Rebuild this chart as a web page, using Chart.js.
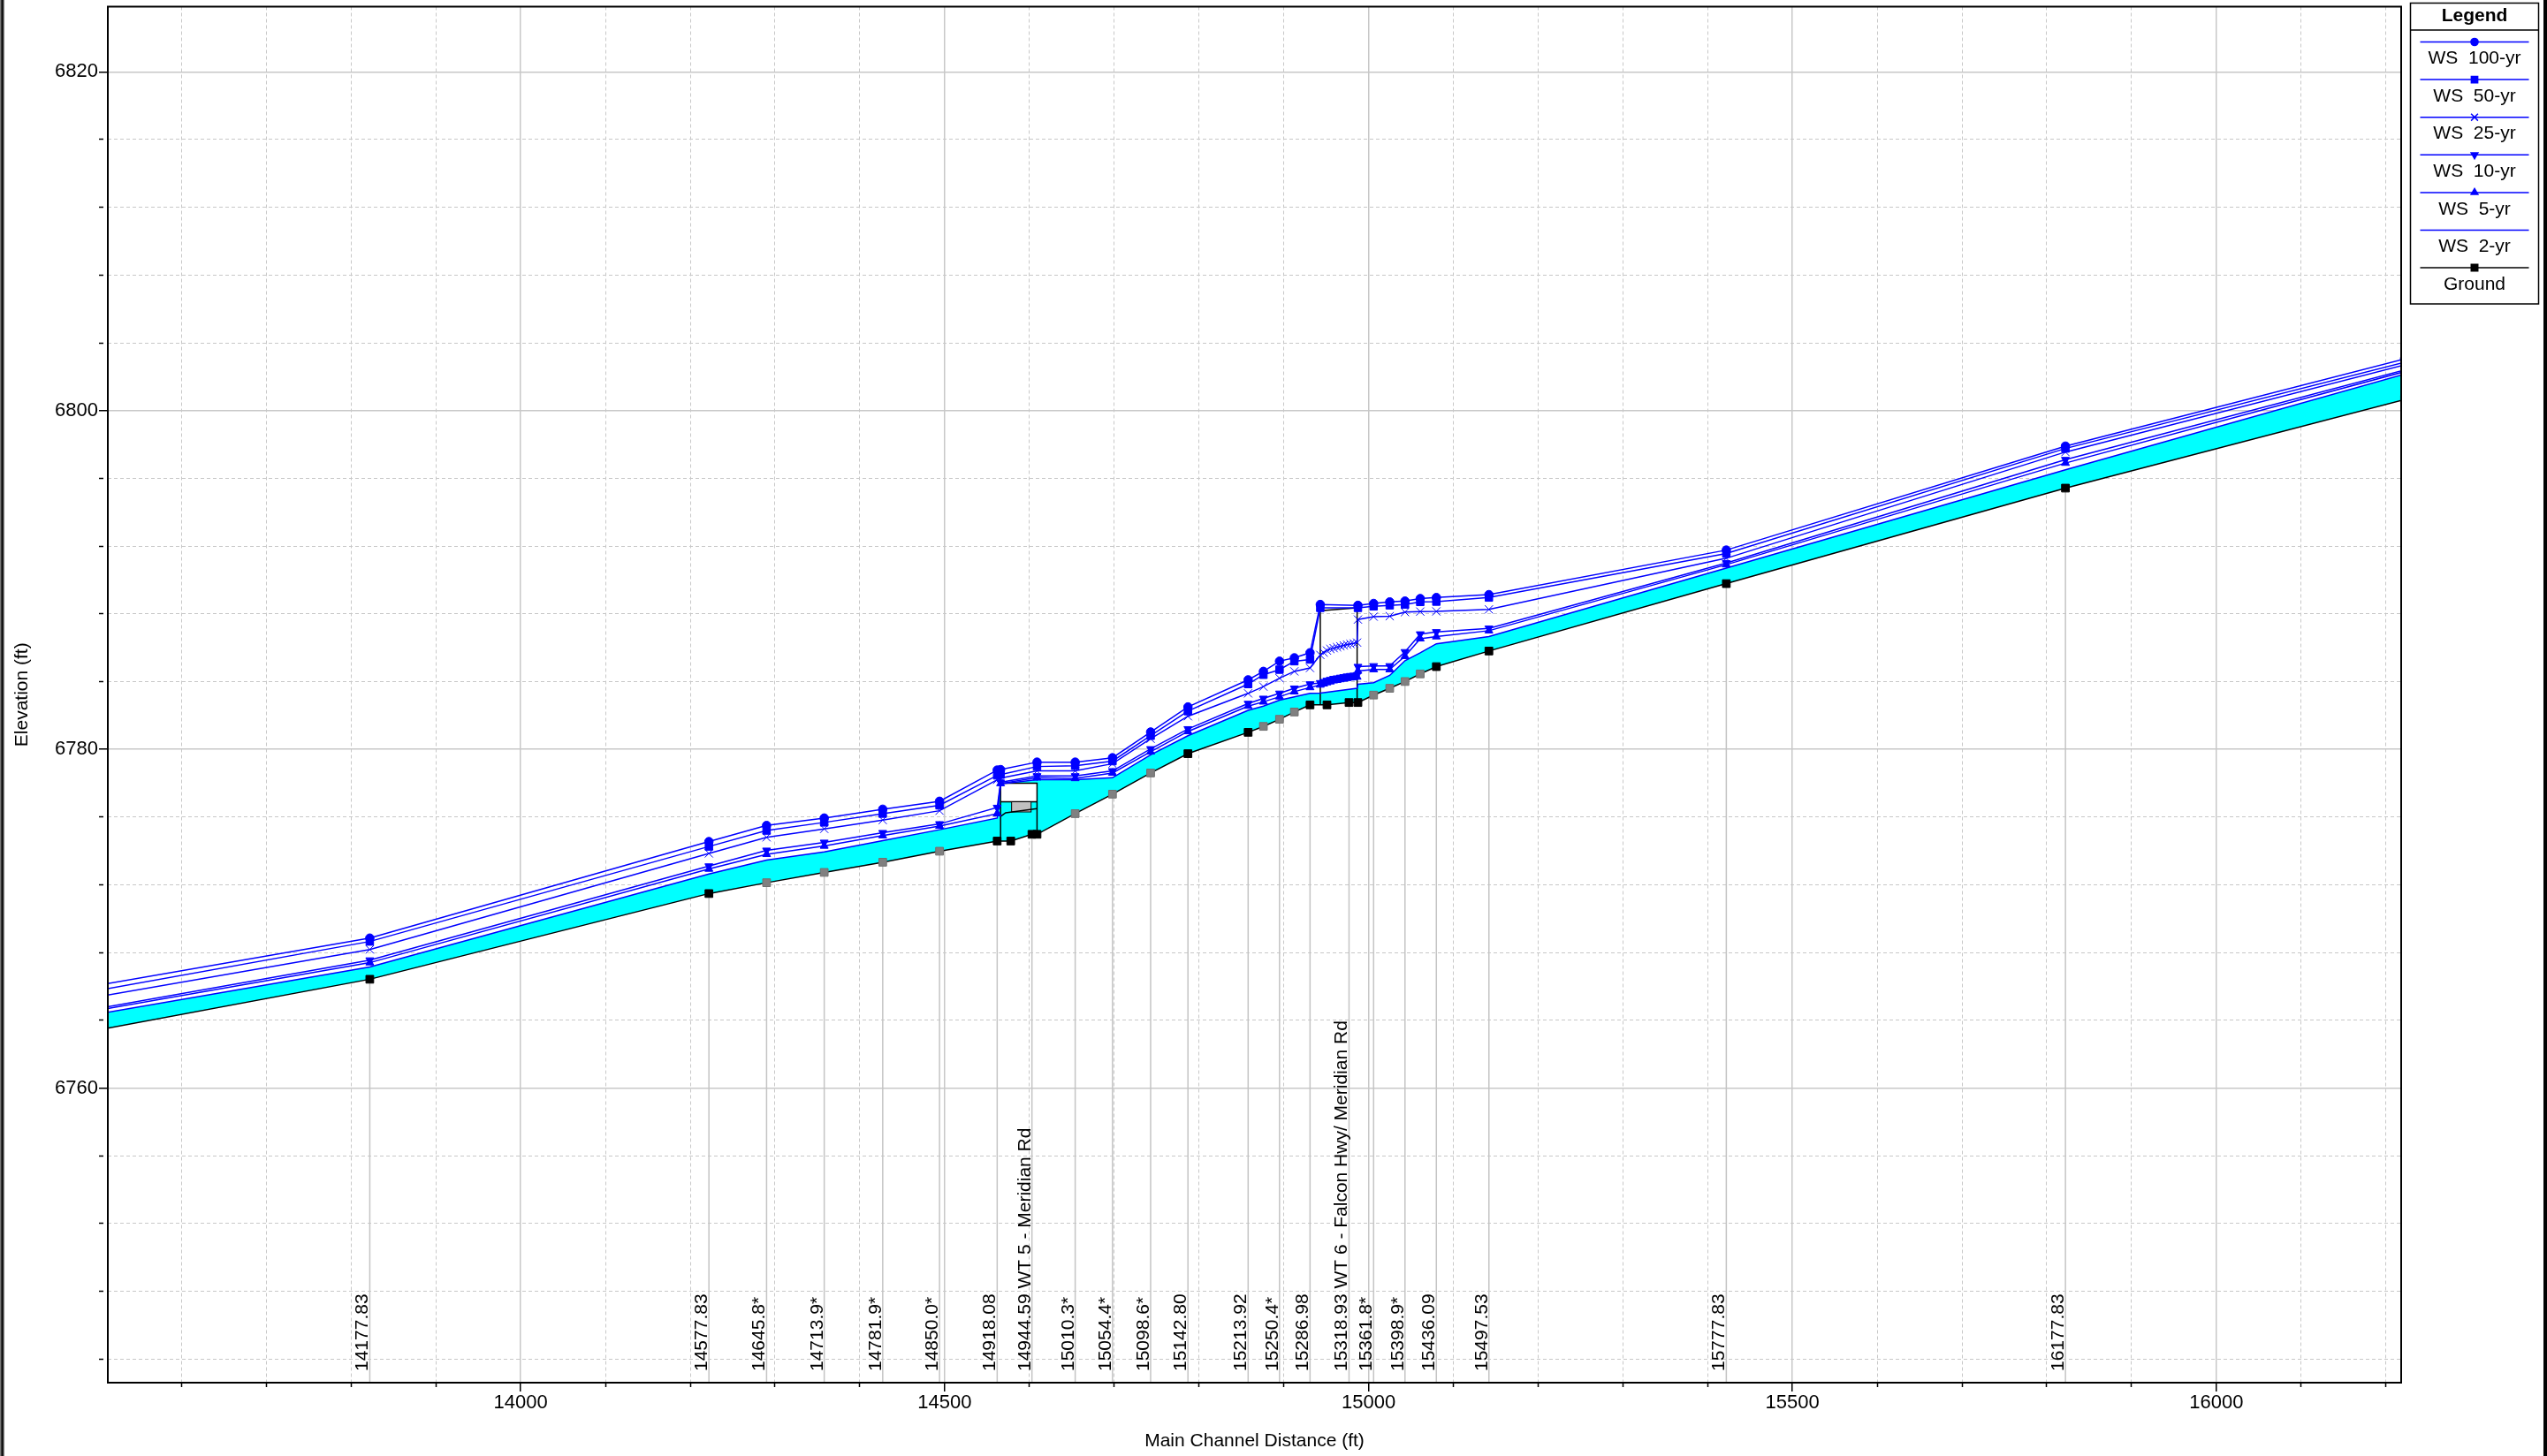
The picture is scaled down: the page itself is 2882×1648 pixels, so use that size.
<!DOCTYPE html>
<html>
<head>
<meta charset="utf-8">
<script src="https://cdn.jsdelivr.net/npm/chart.js@4.4.0/dist/chart.umd.min.js"></script>
<style>
  html, body { margin: 0; padding: 0; background: #fff; }
  canvas { display: block; }
</style>
</head>
<body>
<canvas id="profile" width="2882" height="1648"></canvas>
<script>
// main channel distance (ft) of every computed water surface point
const wsDist = [13422, 13822, 14222, 14290, 14358, 14427, 14494, 14562, 14566, 14609,
  14654, 14698, 14743, 14787, 14858, 14876, 14895, 14912.5, 14931,
  14943.1, 14947.05, 14951, 14954.95, 14958.9, 14962.85, 14966.8, 14970.75, 14974.7, 14978.65, 14982.6, 14986.55,
  14987.5, 15006, 15025, 15043, 15061, 15080, 15142, 15422, 15822, 16222];

// water surface elevations (ft), null = no point at that distance
const ws100 = [6765.37, 6768.85, 6774.55, 6775.5, 6775.94, 6776.46, 6776.93, 6778.77, 6778.8, 6779.24,
  6779.24, 6779.5, 6781.02, 6782.5, 6784.1, 6784.6, 6785.2, 6785.4, 6785.7,
  6788.55, null, null, null, null, null, null, null, null, null, null, null,
  6788.5, 6788.61, 6788.7, 6788.75, 6788.9, 6788.96, 6789.13, 6791.76, 6797.9, 6803.05];
const ws50 = [6765.04, 6768.65, 6774.26, 6775.2, 6775.68, 6776.2, 6776.69, 6778.46, 6778.5, 6778.98,
  6779.03, 6779.3, 6780.8, 6782.25, 6783.85, 6784.4, 6784.7, 6785.2, 6785.3,
  6788.35, null, null, null, null, null, null, null, null, null, null, null,
  6788.35, 6788.44, 6788.5, 6788.55, 6788.7, 6788.72, 6788.96, 6791.56, 6797.76, 6802.85];
const ws25 = [6764.7, 6768.18, 6773.85, 6774.8, 6775.3, 6775.82, 6776.37, 6778.2, 6778.3, 6778.72,
  6778.72, 6779.15, 6780.62, 6781.95, 6783.3, 6783.7, 6784.2, 6784.6, 6784.8,
  6785.57, 6785.71, 6785.83, 6785.92, 6785.97, 6786.03, 6786.08, 6786.13, 6786.18, 6786.22, 6786.25, 6786.3,
  6787.66, 6787.83, 6787.86, 6788.1, 6788.13, 6788.14, 6788.26, 6791.28, 6797.55, 6802.7];
const ws10 = [6763.98, 6767.55, 6773.1, 6774.03, 6774.5, 6775.07, 6775.59, 6776.56, 6778.05, 6778.42,
  6778.42, 6778.72, 6780.02, 6781.2, 6782.7, 6783.0, 6783.3, 6783.6, 6783.85,
  6783.92, 6783.99, 6784.06, 6784.11, 6784.17, 6784.2, 6784.24, 6784.27, 6784.31, 6784.34, 6784.36, 6784.39,
  6784.88, 6784.92, 6784.92, 6785.75, 6786.8, 6786.93, 6787.14, 6791.0, 6797.1, 6802.4];
const ws5 = [6763.89, 6767.4, 6772.93, 6773.8, 6774.29, 6774.9, 6775.47, 6776.2, 6777.98, 6778.32,
  6778.28, 6778.6, 6779.85, 6781.05, 6782.55, 6782.8, 6783.1, 6783.4, 6783.65,
  6783.8, 6783.87, 6783.94, 6783.99, 6784.05, 6784.08, 6784.12, 6784.15, 6784.19, 6784.22, 6784.24, 6784.27,
  6784.62, 6784.71, 6784.71, 6785.49, 6786.53, 6786.65, 6787.0, 6790.9, 6796.9, 6802.3];
const ws2 = [6763.68, 6767.15, 6772.64, 6773.46, 6773.94, 6774.6, 6775.25, 6775.94, 6777.95, 6778.2,
  6778.2, 6778.32, 6779.67, 6780.8, 6782.3, 6782.55, 6782.9, 6783.1, 6783.3,
  6783.32, null, null, null, null, null, null, null, null, null, null, 6783.6,
  6783.84, 6783.93, 6784.36, 6785.23, 6785.7, 6786.23, 6786.65, 6790.7, 6796.5, 6802.15];

// channel invert
const groundDist = [13422, 13822, 14222, 14290, 14358, 14427, 14494, 14562, 14578, 14603, 14609,
  14654, 14698, 14743, 14787, 14858, 14876, 14895, 14912.5, 14931, 14951, 14977, 14987.5,
  15006, 15025, 15043, 15061, 15080, 15142, 15422, 15822, 16222];
const groundElev = [6762.68, 6766.42, 6771.48, 6772.12, 6772.73, 6773.33, 6773.98, 6774.58, 6774.58, 6774.98, 6774.98,
  6776.2, 6777.35, 6778.6, 6779.74, 6781.0, 6781.35, 6781.77, 6782.2, 6782.62, 6782.62, 6782.76, 6782.76,
  6783.2, 6783.6, 6784.0, 6784.45, 6784.88, 6785.8, 6789.78, 6795.42, 6800.65];
// 1 = surveyed section, 0 = interpolated section
const groundSurveyed = [1, 1, 1, 0, 0, 0, 0, 1, 1, 1, 1,
  0, 0, 0, 1, 1, 0, 0, 0, 1, 1, 1, 1,
  0, 0, 0, 0, 1, 1, 1, 1, 1];

// river station labels
const stationDist = [13822, 14222, 14290, 14358, 14427, 14494, 14562, 14603, 14654, 14698, 14743, 14787,
  14858, 14895, 14931, 14977, 15006, 15043, 15080, 15142, 15422, 15822];
const stationLabel = ['14177.83', '14577.83', '14645.8*', '14713.9*', '14781.9*', '14850.0*', '14918.08',
  '14944.59 WT 5 - Meridian Rd', '15010.3*', '15054.4*', '15098.6*', '15142.80',
  '15213.92', '15250.4*', '15286.98', '15318.93 WT 6 - Falcon Hwy/ Meridian Rd',
  '15361.8*', '15398.9*', '15436.09', '15497.53', '15777.83', '16177.83'];

// bridges: faces, road top (high chord), deck bottom (low chord)
const bridgeDn = [14566, 14943.1];
const bridgeUp = [14609, 14986.55];
const bridgeBedDn = [6774.58, 6782.62];
const bridgeBedUp = [6774.98, 6782.76];
const bridgeTopDn = [6778.0, 6788.18];
const bridgeTopUp = [6778.0, 6788.35];
const bridgeLow = [6776.9, null];
const pierDist = [14579, 14602];
const pierElev = [6776.3, 6776.9];
const openingDist = [14566, 14572, 14609];
const openingElev = [6776.03, 6776.25, 6776.5];

const FONT = '"Liberation Sans", Arial, sans-serif';
const BLUE = '#0000ff';

function pts(xs, ys) {
  return xs.map((d, i) => ({ x: d, y: ys[i] }));
}

function wsSet(label, values, style, radius, rotation) {
  return {
    label: label,
    data: pts(wsDist, values),
    borderColor: BLUE,
    backgroundColor: BLUE,
    borderWidth: 1.5,
    pointStyle: style,
    pointRadius: radius,
    pointRotation: rotation || 0,
    pointBorderWidth: 1,
    pointBackgroundColor: BLUE,
    pointBorderColor: BLUE,
    spanGaps: true,
    fill: false,
    tension: 0
  };
}

const datasets = [
  wsSet('WS  100-yr', ws100, 'circle', 4.8),
  wsSet('WS  50-yr', ws50, 'rect', 6),
  wsSet('WS  25-yr', ws25, 'crossRot', 6.5),
  wsSet('WS  10-yr', ws10, 'triangle', 5.2, 180),
  wsSet('WS  5-yr', ws5, 'triangle', 5.2),
  Object.assign(wsSet('WS  2-yr', ws2, false, 0), { fill: '+1', backgroundColor: '#00ffff' }),
  {
    label: 'Ground',
    data: pts(groundDist, groundElev),
    borderColor: '#000000',
    backgroundColor: '#000000',
    borderWidth: 1.5,
    pointStyle: 'rect',
    pointRadius: 6.2,
    pointBorderWidth: 1,
    pointBackgroundColor: groundSurveyed.map(s => s ? '#000000' : '#808080'),
    pointBorderColor: groundSurveyed.map(s => s ? '#000000' : '#707070'),
    fill: false,
    tension: 0
  }
];

function isMajor(c, step) {
  return c.tick && Math.abs(c.tick.value % step) < 1e-6;
}

function stepTicks(step) {
  return scale => {
    const t = [];
    for (let v = Math.ceil(scale.min / step) * step; v <= scale.max; v += step) t.push({ value: v });
    scale.ticks = t;
  };
}

function axisGrid(step) {
  return {
    color: '#c8c8c8',
    lineWidth: c => isMajor(c, step) ? 1.5 : 1,
    tickLength: 10,
    tickColor: '#000000',
    tickWidth: 1.5,
    tickBorderDash: c => isMajor(c, step) ? [] : [5, 40]
  };
}

// fixed axis boxes so the plot area lands where the original one is
function fixBox(size, horizontal) {
  return s => {
    if (horizontal) s.height = size; else s.width = size;
    s.paddingTop = 0;
    s.paddingBottom = 0;
    s.paddingLeft = 0;
    s.paddingRight = 0;
  };
}

const profileDecor = {
  id: 'profileDecor',
  beforeDatasetsDraw(chart) {
    const { ctx, chartArea: a, scales: { x, y } } = chart;
    ctx.save();
    ctx.beginPath();
    ctx.rect(a.left, a.top, a.right - a.left, a.bottom - a.top);
    ctx.clip();

    // station lines from the bed down to the axis
    ctx.strokeStyle = '#c4c4c4';
    ctx.lineWidth = 1.5;
    stationDist.forEach(d => {
      const px = x.getPixelForValue(d);
      const g = groundElev[groundDist.indexOf(d)];
      ctx.beginPath();
      ctx.moveTo(px, y.getPixelForValue(g));
      ctx.lineTo(px, a.bottom);
      ctx.stroke();
    });

    // bridge decks
    ctx.strokeStyle = '#000000';
    ctx.lineWidth = 1.5;
    bridgeDn.forEach((dn, i) => {
      const x0 = x.getPixelForValue(dn), x1 = x.getPixelForValue(bridgeUp[i]);
      if (bridgeLow[i] !== null) {
        const yt = y.getPixelForValue(bridgeTopDn[i]), yb = y.getPixelForValue(bridgeLow[i]);
        ctx.fillStyle = '#ffffff';
        ctx.fillRect(x0, yt, x1 - x0, yb - yt);
      }
      ctx.beginPath();
      ctx.moveTo(x0, y.getPixelForValue(bridgeBedDn[i]));
      ctx.lineTo(x0, y.getPixelForValue(bridgeTopDn[i]));
      ctx.lineTo(x1, y.getPixelForValue(bridgeTopUp[i]));
      ctx.lineTo(x1, y.getPixelForValue(bridgeBedUp[i]));
      if (bridgeLow[i] !== null) {
        ctx.moveTo(x0, y.getPixelForValue(bridgeLow[i]));
        ctx.lineTo(x1, y.getPixelForValue(bridgeLow[i]));
      }
      ctx.stroke();
    });

    // pier under the Meridian Rd deck
    const px0 = x.getPixelForValue(pierDist[0]), px1 = x.getPixelForValue(pierDist[1]);
    const py0 = y.getPixelForValue(pierElev[1]), py1 = y.getPixelForValue(pierElev[0]);
    ctx.fillStyle = '#c0c0c0';
    ctx.fillRect(px0, py0, px1 - px0, py1 - py0);
    ctx.lineWidth = 1;
    ctx.strokeRect(px0, py0, px1 - px0, py1 - py0);

    ctx.lineWidth = 1.5;
    ctx.beginPath();
    openingDist.forEach((d, i) => {
      const px = x.getPixelForValue(d), py = y.getPixelForValue(openingElev[i]);
      if (i === 0) ctx.moveTo(px, py); else ctx.lineTo(px, py);
    });
    ctx.stroke();
    ctx.restore();
  },
  afterDatasetsDraw(chart) {
    const { ctx, chartArea: a, scales: { x } } = chart;
    ctx.save();
    // station labels, rotated, reading bottom to top
    ctx.fillStyle = '#000000';
    ctx.font = '21px ' + FONT;
    ctx.textAlign = 'left';
    ctx.textBaseline = 'alphabetic';
    stationDist.forEach((d, i) => {
      const px = x.getPixelForValue(d);
      ctx.save();
      ctx.translate(px - 2, a.bottom - 13);
      ctx.rotate(-Math.PI / 2);
      ctx.fillText(stationLabel[i], 0, 0);
      ctx.restore();
    });
    // plot frame
    ctx.strokeStyle = '#000000';
    ctx.lineWidth = 2;
    ctx.strokeRect(a.left, a.top, a.right - a.left, a.bottom - a.top);
    ctx.restore();
  },
  afterDraw(chart) {
    const ctx = chart.ctx;
    const W = chart.width, H = chart.height;
    ctx.save();
    // legend box
    const L = 2727.5, R = 2872.5, T = 3.5, B = 344;
    const mid = (L + R) / 2;
    ctx.fillStyle = '#ffffff';
    ctx.fillRect(L, T, R - L, B - T);
    ctx.strokeStyle = '#000000';
    ctx.lineWidth = 1.5;
    ctx.strokeRect(L, T, R - L, B - T);
    ctx.beginPath();
    ctx.moveTo(L, 34);
    ctx.lineTo(R, 34);
    ctx.stroke();
    ctx.fillStyle = '#000000';
    ctx.textAlign = 'center';
    ctx.textBaseline = 'middle';
    ctx.font = 'bold 21px ' + FONT;
    ctx.fillText('Legend', mid, 18);
    chart.data.datasets.forEach((ds, i) => {
      const ly = 47.5 + 42.6 * i;
      ctx.strokeStyle = ds.borderColor;
      ctx.lineWidth = 1.5;
      ctx.beginPath();
      ctx.moveTo(L + 11, ly);
      ctx.lineTo(R - 11, ly);
      ctx.stroke();
      if (ds.pointRadius > 0 && Chart.helpers && Chart.helpers.drawPoint) {
        ctx.fillStyle = ds.borderColor;
        ctx.strokeStyle = ds.borderColor;
        Chart.helpers.drawPoint(ctx, {
          pointStyle: ds.pointStyle,
          radius: ds.pointRadius * 0.85,
          rotation: ds.pointRotation || 0,
          borderWidth: 1
        }, mid, ly);
      }
      ctx.fillStyle = '#000000';
      ctx.font = '21px ' + FONT;
      ctx.fillText(ds.label, mid, ly + 19);
    });
    // window edges
    ctx.fillStyle = '#7a7a7a';
    ctx.fillRect(0, 0, 5, H);
    ctx.fillStyle = '#000000';
    ctx.fillRect(1.5, 0, 2, H);
    ctx.fillRect(W - 4, 0, 4, H);
    ctx.restore();
  }
};

new Chart(document.getElementById('profile'), {
  type: 'line',
  data: { datasets: datasets },
  options: {
    responsive: false,
    devicePixelRatio: 1,
    animation: false,
    events: [],
    layout: { padding: { left: 0, top: 4, right: 165, bottom: 0 } },
    plugins: {
      legend: { display: false },
      tooltip: { enabled: false },
      filler: { drawTime: 'beforeDatasetsDraw' }
    },
    scales: {
      x: {
        type: 'linear',
        position: 'bottom',
        min: 13513,
        max: 16218,
        bounds: 'data',
        afterBuildTicks: stepTicks(100),
        afterFit: fixBox(83, true),
        ticks: {
          autoSkip: false,
          maxRotation: 0,
          minRotation: 0,
          padding: 0,
          color: '#000000',
          font: { family: FONT, size: 22 },
          callback: v => v % 500 === 0 ? String(v) : ''
        },
        grid: axisGrid(500),
        border: { display: false, dash: c => isMajor(c, 500) ? [] : [4, 3] },
        title: {
          display: true,
          text: 'Main Channel Distance (ft)',
          color: '#000000',
          font: { family: FONT, size: 21 },
          padding: { top: 0, bottom: 4 }
        }
      },
      y: {
        type: 'linear',
        position: 'left',
        min: 6742.6,
        max: 6823.85,
        bounds: 'data',
        afterBuildTicks: stepTicks(4),
        afterFit: fixBox(122, false),
        ticks: {
          autoSkip: false,
          padding: 1,
          color: '#000000',
          font: { family: FONT, size: 22 },
          callback: v => v % 20 === 0 ? String(v) : ''
        },
        grid: axisGrid(20),
        border: { display: false, dash: c => isMajor(c, 20) ? [] : [4, 3] },
        title: {
          display: true,
          text: 'Elevation (ft)',
          color: '#000000',
          font: { family: FONT, size: 21 },
          padding: { top: 13, bottom: 0 }
        }
      }
    }
  },
  plugins: [profileDecor]
});
</script>
</body>
</html>
